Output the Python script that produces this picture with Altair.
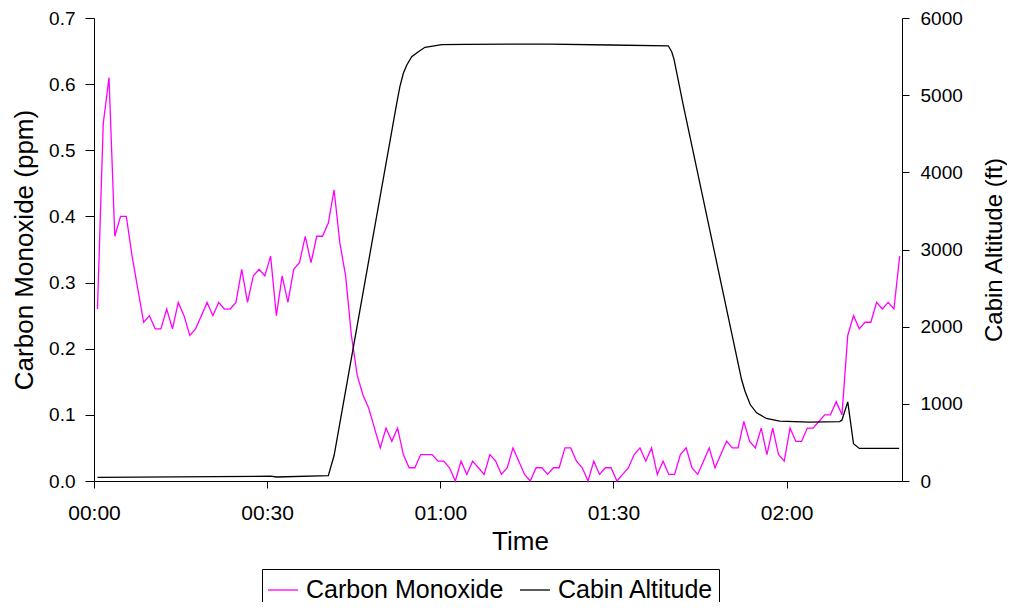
import altair as alt
import pandas as pd

# Carbon monoxide readings (ppm), one per minute starting at 0.6 min
co_ppm = [
    0.26, 0.54, 0.61, 0.37, 0.40, 0.40, 0.34, 0.29, 0.24, 0.25,
    0.23, 0.23, 0.26, 0.23, 0.27, 0.25, 0.22, 0.23, 0.25, 0.27,
    0.25, 0.27, 0.26, 0.26, 0.27, 0.32, 0.27, 0.31, 0.32, 0.31,
    0.34, 0.25, 0.31, 0.27, 0.32, 0.33, 0.37, 0.33, 0.37, 0.37,
    0.39, 0.44, 0.36, 0.31, 0.22, 0.16, 0.13, 0.11, 0.08, 0.05,
    0.08, 0.06, 0.08, 0.04, 0.02, 0.02, 0.04, 0.04, 0.04, 0.03,
    0.03, 0.02, 0.00, 0.03, 0.01, 0.03, 0.02, 0.01, 0.04, 0.03,
    0.01, 0.02, 0.05, 0.03, 0.01, 0.00, 0.02, 0.02, 0.01, 0.02,
    0.02, 0.05, 0.05, 0.03, 0.02, 0.00, 0.03, 0.01, 0.02, 0.02,
    0.00, 0.01, 0.02, 0.04, 0.05, 0.03, 0.05, 0.01, 0.03, 0.01,
    0.01, 0.04, 0.05, 0.02, 0.01, 0.03, 0.05, 0.02, 0.04, 0.06,
    0.05, 0.05, 0.09, 0.06, 0.05, 0.08, 0.04, 0.08, 0.04, 0.03,
    0.08, 0.06, 0.06, 0.08, 0.08, 0.09, 0.10, 0.10, 0.12, 0.10,
    0.22, 0.25, 0.23, 0.24, 0.24, 0.27, 0.26, 0.27, 0.26, 0.34,
]
co_start_min = 0.6
co_step_min = 1.0
co_time = [round(co_start_min + i * co_step_min, 2) for i in range(len(co_ppm))]

# Cabin altitude (ft) read at these elapsed minutes
alt_time = [0.6, 30.6, 31.6, 40.6, 41.6, 52.45, 53.0, 53.6, 54.2, 55.05,
            56.2, 57.35, 60.25, 64.3, 79.0, 89.4, 99.5, 100.1, 100.5, 102.1,
            112.2, 112.8, 113.7, 114.8, 116.5, 118.8, 124.0, 129.2, 129.6, 130.6,
            131.6, 132.6, 139.5]
alt_ft = [48, 62, 52, 70, 330, 4895, 5110, 5283, 5391, 5498,
          5563, 5620, 5654, 5659, 5662, 5650, 5640, 5563, 5464, 4870,
          1315, 1163, 991, 884, 810, 775, 762, 770, 790, 1026,
          483, 422, 422]

series_names = ["Carbon Monoxide", "Cabin Altitude"]
series_colors = ["#FF00FF", "#000000"]
x_ticks = [0, 30, 60, 90, 120]
co_ticks = [0, 0.1, 0.2, 0.3, 0.4, 0.5, 0.6, 0.7]
alt_ticks = [0, 1000, 2000, 3000, 4000, 5000, 6000]

co_df = pd.DataFrame({"minutes": co_time, "value": co_ppm, "series": series_names[0]})
alt_df = pd.DataFrame({"minutes": alt_time, "value": alt_ft, "series": series_names[1]})

FONT = "Liberation Sans"

color = alt.Color(
    "series:N",
    scale=alt.Scale(domain=series_names, range=series_colors),
    legend=alt.Legend(
        title=None, orient="none", legendX=168, legendY=551,
        direction="horizontal", strokeColor="black", fillColor="white",
        padding=5, cornerRadius=0, labelFont=FONT, labelFontSize=25,
        labelColor="black", labelLimit=400, symbolType="stroke",
        symbolSize=900, symbolStrokeWidth=1.3, columnPadding=13, labelOffset=7,
    ),
)

label_expr = ("(floor(datum.value/60)<10?'0':'') + floor(datum.value/60) + ':' + "
              "((datum.value%60)<10?'0':'') + (datum.value%60)")

x = alt.X(
    "minutes:Q",
    scale=alt.Scale(domain=[0, 140], nice=False, zero=False),
    axis=alt.Axis(values=x_ticks, labelExpr=label_expr, title="Time",
                  tickSize=7, labelPadding=14, titlePadding=5, grid=False,
                  labelFlush=False, labelFontSize=21, titleFontSize=26,
                  titleX=426),
)

co_line = alt.Chart(co_df).mark_line(strokeWidth=1.3).encode(
    x=x,
    y=alt.Y("value:Q", scale=alt.Scale(domain=[0, 0.7], nice=False),
            axis=alt.Axis(values=co_ticks, format=".1f", title="Carbon Monoxide (ppm)",
                          orient="left", tickSize=9, labelPadding=10, titlePadding=11,
                          labelFontSize=19, titleFontSize=26, labelFlush=False,
                          grid=False)),
    color=color,
)

alt_line = alt.Chart(alt_df).mark_line(strokeWidth=1.3).encode(
    x=x,
    y=alt.Y("value:Q", scale=alt.Scale(domain=[0, 6000], nice=False),
            axis=alt.Axis(values=alt_ticks, format="d", title="Cabin Altitude (ft)",
                          orient="right", tickSize=7, labelPadding=11, titlePadding=20,
                          titleAngle=270, titleBaseline="top", titleFontSize=24,
                          labelFontSize=19, labelFlush=False, grid=False)),
    color=color,
)

chart = alt.layer(co_line, alt_line).resolve_scale(y="independent").properties(
    width=808, height=463,
    padding={"left": 86, "top": 10, "right": 105, "bottom": 121},
    autosize=alt.AutoSizeParams(type="none"),
).configure_view(stroke=None).configure_axis(
    labelFont=FONT, titleFont=FONT, labelFontSize=20, titleFontSize=24,
    labelColor="black", titleColor="black", titleFontWeight="normal",
    domainColor="black", tickColor="black", domainWidth=1, tickWidth=1,
)

chart.save("out.html", embed_options={"renderer": "svg", "actions": False})
